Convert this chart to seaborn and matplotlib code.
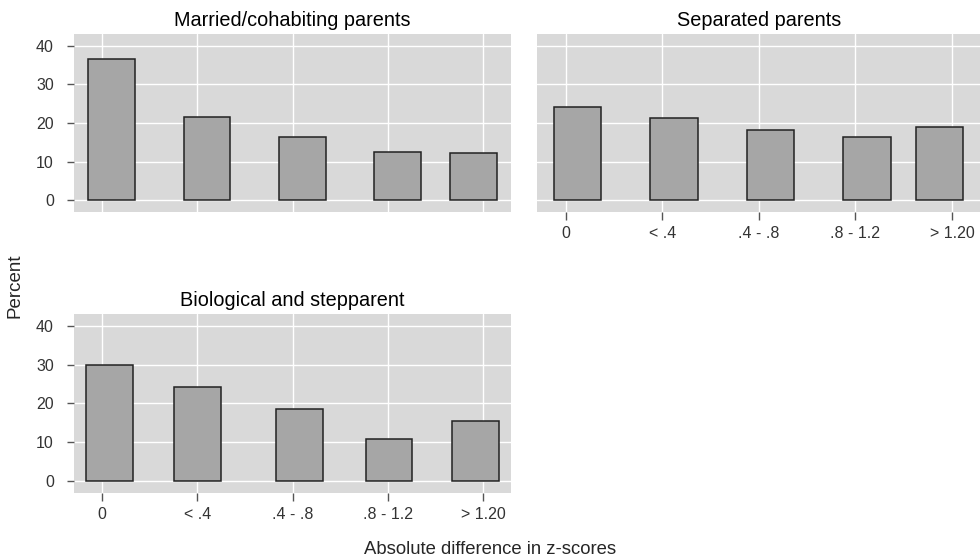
import numpy as np
import pandas as pd
import seaborn as sns
import matplotlib.pyplot as plt

# bins of the absolute difference in z-scores
tick_labels = ["0", "< .4", ".4 - .8", ".8 - 1.2", "> 1.20"]

# bar centres on the bin axis (bins sit at 0..4) and heights
married_x = [0.10, 1.10, 2.10, 3.10, 3.90]
married_pct = [36.6, 21.6, 16.3, 12.6, 12.2]

separated_x = [0.12, 1.12, 2.12, 3.12, 3.87]
separated_pct = [24.2, 21.4, 18.2, 16.5, 19.0]

stepparent_x = [0.08, 1.00, 2.07, 3.01, 3.92]
stepparent_pct = [29.9, 24.3, 18.6, 10.8, 15.5]

panels = [
    ("Married/cohabiting parents", married_x, married_pct),
    ("Separated parents", separated_x, separated_pct),
    ("Biological and stepparent", stepparent_x, stepparent_pct),
]

sns.set_theme(style="darkgrid", rc={
    "axes.facecolor": "#d9d9d9",
    "grid.color": "white",
    "grid.linewidth": 1.0,
    "axes.edgecolor": "#d9d9d9",
})
plt.rcParams["font.family"] = ["Liberation Sans", "DejaVu Sans"]

fig = plt.figure(figsize=(9.8, 5.6), dpi=100)
boxes = [
    [0.0755, 0.6214, 0.4459, 0.3179],
    [0.5483, 0.6214, 0.4517, 0.3179],
    [0.0755, 0.1202, 0.4459, 0.3186],
]

bar_w = 0.49
for i, ((title, xs, ys), box) in enumerate(zip(panels, boxes)):
    ax = fig.add_axes(box)
    df = pd.DataFrame({"bin": xs, "pct": ys})
    native = np.diff(np.sort(xs)).min()
    sns.barplot(data=df, x="bin", y="pct", native_scale=True,
                width=bar_w / native, color="#a6a6a6", saturation=1,
                edgecolor="#222222", linewidth=1.1, ax=ax, zorder=3)
    ax.set_xlim(-0.295, 4.29)
    ax.set_ylim(-3, 43)
    ax.set_xticks(range(5))
    ax.set_yticks([0, 10, 20, 30, 40])
    ax.set_xlabel("")
    ax.set_ylabel("")
    ax.set_title(title, fontsize=14.3, pad=6, color="black")
    ax.tick_params(axis="both", colors="#555555", labelcolor="#333333",
                   labelsize=11.5, length=5, width=1.0,
                   bottom=True, left=True)
    ax.tick_params(axis="y", pad=9.5)
    for s in ax.spines.values():
        s.set_visible(False)

    if i == 0:
        ax.tick_params(axis="x", bottom=False, labelbottom=False)
    else:
        ax.set_xticklabels(tick_labels)
        ax.tick_params(axis="x", length=6, pad=4)
    if i == 1:
        ax.tick_params(axis="y", left=False, labelleft=False)

fig.text(0.015, 0.49, "Percent", rotation=90, fontsize=13.5,
         ha="center", va="center")
fig.text(0.5, 0.018, "Absolute difference in z-scores", fontsize=13.3,
         ha="center", va="center")

fig.savefig("out.png", dpi=100)
